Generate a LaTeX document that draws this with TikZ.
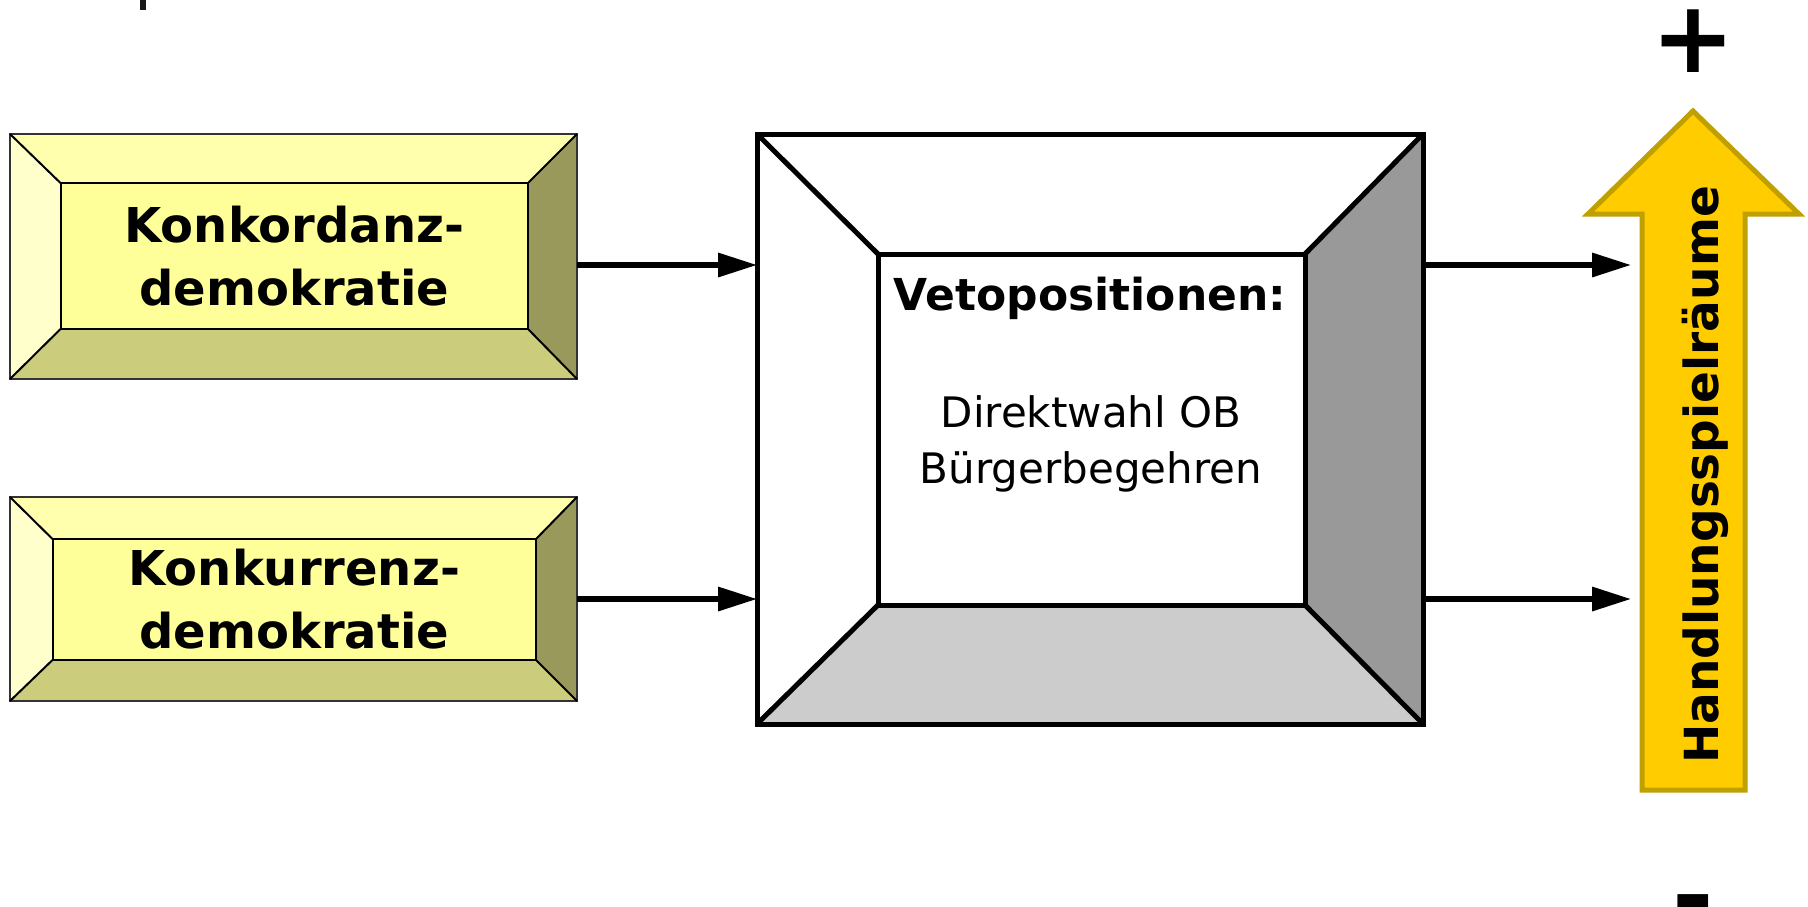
\documentclass[tikz,border=0pt]{standalone}
\usepackage{fontspec}
\setmainfont{DejaVu Sans}
\usepackage{tikz}
\usetikzlibrary{arrows.meta, backgrounds}
\definecolor{lemon}{HTML}{FFFF99}
\definecolor{lemontop}{HTML}{FFFFAD}
\definecolor{lemonleft}{HTML}{FFFFCC}
\definecolor{lemonright}{HTML}{99995C}
\definecolor{lemonbottom}{HTML}{CCCC7D}
\definecolor{greyright}{HTML}{999999}
\definecolor{greybottom}{HTML}{CCCCCC}
\definecolor{gold}{HTML}{FFCC00}
\definecolor{goldedge}{HTML}{C0A000}
\tikzstyle{arrow} = [line width=2.6pt,-{Triangle[length=19.5pt,width=11.7pt]}]
\tikzstyle{boxbase} = [rectangle, inner sep=0pt, outer sep=0pt]
\tikzstyle{demobox} = [boxbase, draw=black!80, line width=1pt]
\tikzstyle{demoin} = [boxbase, draw=black, line width=1pt, fill=lemon, align=center, font=\fontsize{24}{31.5}\selectfont\bfseries]
\tikzstyle{vetobox} = [boxbase, draw=black, line width=2.5pt]

\begin{document}
\begin{tikzpicture}[x=0.5pt, y=-0.5pt]
		\useasboundingbox (0,0) rectangle (1808,906);
		\fill[black!90] (140,0) rectangle (146,10);
		\node[demobox, minimum width=283.5pt, minimum height=122.5pt] (konk) at (293.5,256.5) {};
		\node[demoin, minimum width=233.75pt, minimum height=73pt] (konkin) at (294.25,256) {Konkordanz-\\demokratie};
		\node[demobox, minimum width=283.5pt, minimum height=102pt] (konku) at (293.5,599) {};
		\node[demoin, minimum width=241.75pt, minimum height=60.5pt] (konkuin) at (294.25,599.5) {Konkurrenz-\\demokratie};
		\node[vetobox, minimum width=333pt, minimum height=295pt] (veto) at (1090,429) {};
		\node[vetobox, minimum width=213.5pt, minimum height=175.5pt] (vetoin) at (1091.5,429.5) {};
		\begin{scope}[on background layer]
			\foreach \o/\i/\t/\l/\r/\b in {konk/konkin/lemontop/lemonleft/lemonright/lemonbottom, konku/konkuin/lemontop/lemonleft/lemonright/lemonbottom, veto/vetoin/white/white/greyright/greybottom} {
				\fill[\t] (\o.north west) -- (\o.north east) -- (\i.north east) -- (\i.north west) -- cycle;
				\fill[\l] (\o.north west) -- (\i.north west) -- (\i.south west) -- (\o.south west) -- cycle;
				\fill[\r] (\o.north east) -- (\o.south east) -- (\i.south east) -- (\i.north east) -- cycle;
				\fill[\b] (\o.south west) -- (\o.south east) -- (\i.south east) -- (\i.south west) -- cycle;
			}
		\end{scope}
		\foreach \c in {north west, north east, south west, south east} {
			\draw[line width=1pt] (konk.\c) -- (konkin.\c);
			\draw[line width=1pt] (konku.\c) -- (konkuin.\c);
			\draw[line width=2.5pt] (veto.\c) -- (vetoin.\c);
		}
		\node[anchor=base, font=\fontsize{22}{26}\selectfont\bfseries] (vetotitle) at (1090,310) {Vetopositionen:};
		\node[anchor=base, font=\fontsize{21}{28}\selectfont] (direkt) at (1091,427) {Direktwahl OB};
		\node[anchor=base, font=\fontsize{21}{28}\selectfont] (buerger) at (1091,483) {Bürgerbegehren};
		\filldraw[fill=gold, draw=goldedge, line width=2.5pt] (1693,111) -- (1799,214) -- (1745,214) -- (1745,790) -- (1642,790) -- (1642,214) -- (1588,214) -- cycle;
		\node[anchor=base, rotate=90, font=\fontsize{23.5}{28}\selectfont\bfseries] (hand) at (1718,475) {Handlungsspielräume};
		\node[font=\fontsize{50}{60}\selectfont\bfseries] (plus) at (1693,41) {+};
		\node[font=\fontsize{50}{60}\selectfont\bfseries] (minus) at (1693,913) {-};
		\coordinate (hs1) at (1631,265);
		\coordinate (hs2) at (1631,599);
		\draw[arrow] (konk.east |- 0,265) -- (veto.west |- 0,265);
		\draw[arrow] (konku.east) -- (konku.east -| veto.west);
		\draw[arrow] (veto.east |- hs1) -- (hs1);
		\draw[arrow] (veto.east |- hs2) -- (hs2);
	\end{tikzpicture}
\end{document}
